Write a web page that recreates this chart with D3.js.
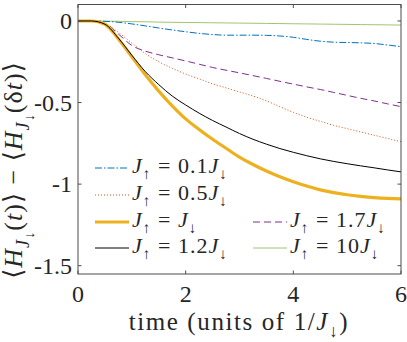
<!DOCTYPE html>
<html>
<head>
<meta charset="utf-8">
<script src="https://cdn.jsdelivr.net/npm/d3@7"></script>
<style>
  body { margin: 0; background: #fff; }
  svg { display: block; }
  text { font-family: "Liberation Serif", "DejaVu Serif", serif; fill: #262626; }
</style>
</head>
<body>
<svg width="407" height="342"></svg>
<script>
// time axis, units of 1/J_down
const time = [0, 0.25, 0.5, 0.75, 1, 1.25, 1.5, 1.75, 2, 2.25, 2.5, 2.75, 3,
              3.25, 3.5, 3.75, 4, 4.25, 4.5, 4.75, 5, 5.25, 5.5, 5.75, 6];

// <H(t)> - <H(dt)> for each ratio J_up / J_down
const ratio01 = [0, 0, -0.002, -0.008, -0.018, -0.03, -0.043, -0.055, -0.066, -0.076, -0.083, -0.087, -0.087,
                 -0.087, -0.088, -0.092, -0.1, -0.113, -0.124, -0.13, -0.132, -0.134, -0.138, -0.147, -0.158];
const ratio05 = [0, 0, -0.015, -0.07, -0.135, -0.2, -0.25, -0.29, -0.325, -0.355, -0.385, -0.41, -0.435,
                 -0.46, -0.49, -0.525, -0.56, -0.59, -0.615, -0.64, -0.66, -0.68, -0.7, -0.72, -0.74];
const ratio1  = [0, 0, -0.02, -0.11, -0.22, -0.33, -0.43, -0.52, -0.6, -0.665, -0.725, -0.78, -0.835,
                 -0.88, -0.92, -0.955, -0.985, -1.012, -1.035, -1.052, -1.065, -1.075, -1.083, -1.088, -1.09];
const ratio17 = [0, 0, -0.015, -0.08, -0.15, -0.185, -0.207, -0.226, -0.245, -0.265, -0.285, -0.302, -0.318,
                 -0.335, -0.352, -0.37, -0.387, -0.404, -0.42, -0.438, -0.456, -0.474, -0.49, -0.508, -0.525];
const ratio12 = [0, 0, -0.02, -0.105, -0.21, -0.31, -0.39, -0.46, -0.515, -0.565, -0.61, -0.65, -0.69,
                 -0.725, -0.755, -0.782, -0.805, -0.826, -0.845, -0.861, -0.875, -0.888, -0.9, -0.913, -0.925];
const ratio10 = [0, 0, -0.001, -0.002, -0.004, -0.005, -0.007, -0.008, -0.009, -0.01, -0.011, -0.012, -0.013,
                 -0.014, -0.015, -0.016, -0.017, -0.018, -0.019, -0.02, -0.021, -0.022, -0.023, -0.024, -0.025];

const xTicks = [0, 2, 4, 6];
const yTicks = [0, -0.5, -1, -1.5];
const yTickLabels = ["0", "-0.5", "-1", "-1.5"];
const ratioLabels = ["0.1", "0.5", "", "1.7", "1.2", "10"];

const svg = d3.select("svg");
const mLeft = 78, mRight = 401, mTop = 4.5, mBottom = 274;

const x = d3.scaleLinear().domain([0, 6]).range([mLeft, mRight]);
const y = d3.scaleLinear().domain([-1.551, 0.101]).range([mBottom, mTop]);

// yellow drawn under black
const series = [
    { values: ratio10, color: "#77AC30", width: 1,   dash: null,        label: ratioLabels[5], opacity: 0.7 },
    { values: ratio01, color: "#0072BD", width: 1,   dash: "7,2,1.5,2", label: ratioLabels[0] },
    { values: ratio05, color: "#D95319", width: 1,   dash: "1,2",       label: ratioLabels[1] },
    { values: ratio17, color: "#7E2F8E", width: 1,   dash: "7,4",       label: ratioLabels[3] },
    { values: ratio1,  color: "#EDB120", width: 3.2, dash: null,        label: ratioLabels[2] },
    { values: ratio12, color: "#000000", width: 1,   dash: null,        label: ratioLabels[4] }
];

const line = d3.line()
    .x((d, i) => x(time[i]))
    .y(d => y(d))
    .curve(d3.curveMonotoneX);

svg.append("g").selectAll("path")
    .data(series)
    .join("path")
    .attr("d", d => line(d.values))
    .attr("fill", "none")
    .attr("stroke", d => d.color)
    .attr("stroke-width", d => d.width)
    .attr("stroke-dasharray", d => d.dash)
    .attr("stroke-opacity", d => d.opacity || 1);

// box with inward ticks on all four sides
const frame = svg.append("g").attr("stroke", "#4d4d4d").attr("stroke-width", 1).attr("fill", "none");
frame.append("rect")
    .attr("x", mLeft).attr("y", mTop)
    .attr("width", mRight - mLeft).attr("height", mBottom - mTop);
const tickLen = 3.5;
xTicks.forEach(t => {
    frame.append("line").attr("x1", x(t)).attr("x2", x(t)).attr("y1", mBottom).attr("y2", mBottom - tickLen);
    frame.append("line").attr("x1", x(t)).attr("x2", x(t)).attr("y1", mTop).attr("y2", mTop + tickLen);
});
yTicks.forEach(v => {
    frame.append("line").attr("x1", mLeft).attr("x2", mLeft + tickLen).attr("y1", y(v)).attr("y2", y(v));
    frame.append("line").attr("x1", mRight).attr("x2", mRight - tickLen).attr("y1", y(v)).attr("y2", y(v));
});

svg.append("g").selectAll("text")
    .data(xTicks)
    .join("text")
    .attr("x", d => x(d))
    .attr("y", 302)
    .attr("text-anchor", "middle")
    .attr("font-size", 24)
    .text(d => d);

svg.append("g").selectAll("text")
    .data(yTicks)
    .join("text")
    .attr("x", mLeft - 6)
    .attr("y", d => y(d) + 8)
    .attr("text-anchor", "end")
    .attr("font-size", 24)
    .text((d, i) => yTickLabels[i]);

// text made of pieces; lv = 0 normal, 1 subscript, 2 sub-subscript
function richText(sel, parts, size) {
    const shift = [0, size * 0.28, size * 0.45];
    const scale = [1, 0.7, 0.55];
    let lv = 0;
    parts.forEach(p => {
        const nl = p.lv || 0;
        const ts = sel.append("tspan").text(p.t).attr("font-size", size * scale[nl]);
        if (nl !== lv) ts.attr("dy", shift[nl] - shift[lv]);
        if (p.i) ts.attr("font-style", "italic");
        lv = nl;
    });
}

function jLabel(r) {
    return [{ t: "J", i: true }, { t: "\u2191", lv: 1 }, { t: " = " + r },
            { t: "J", i: true }, { t: "\u2193", lv: 1 }];
}

// legend, two columns, no box
const legendRows = [
    { s: series[1], lx: 95,  ly: 168 },
    { s: series[2], lx: 95,  ly: 195 },
    { s: series[4], lx: 95,  ly: 222 },
    { s: series[3], lx: 253, ly: 222 },
    { s: series[5], lx: 95,  ly: 248 },
    { s: series[0], lx: 253, ly: 248 }
];
legendRows.forEach(r => {
    svg.append("line")
        .attr("x1", r.lx).attr("x2", r.lx + 34)
        .attr("y1", r.ly).attr("y2", r.ly)
        .attr("stroke", r.s.color)
        .attr("stroke-width", r.s.width)
        .attr("stroke-dasharray", r.s.dash)
        .attr("stroke-opacity", r.s.opacity || 1);
    const t = svg.append("text").attr("x", r.lx + 37).attr("y", r.ly + 5)
        .attr("letter-spacing", 1);
    richText(t, jLabel(r.s.label), 22);
});

const xl = svg.append("text").attr("x", 239).attr("y", 330).attr("text-anchor", "middle")
    .attr("letter-spacing", 1.6);
richText(xl, [{ t: "time (units of 1/" }, { t: "J", i: true }, { t: "\u2193", lv: 1 }, { t: ")" }], 25);

const yl = svg.append("text")
    .attr("transform", "translate(22,170) rotate(-90)")
    .attr("text-anchor", "middle")
    .attr("letter-spacing", 1);
richText(yl, [
    { t: "\u27E8" }, { t: "H", i: true }, { t: "J", i: true, lv: 1 }, { t: "\u2193", lv: 2 },
    { t: "(" }, { t: "t", i: true }, { t: ")\u27E9 \u2212 \u27E8" }, { t: "H", i: true },
    { t: "J", i: true, lv: 1 }, { t: "\u2193", lv: 2 }, { t: "(\u03B4" }, { t: "t", i: true }, { t: ")\u27E9" }
], 26);
</script>
</body>
</html>
